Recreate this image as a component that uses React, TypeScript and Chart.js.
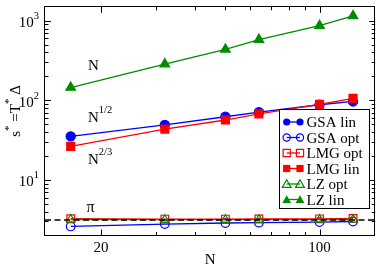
import React, { useEffect, useRef } from 'react';
import { Chart, registerables } from 'chart.js';

Chart.register(...registerables);

// ---- data ----
const N = [16, 32, 50, 64, 100, 128];
const gsaLin = [35.3, 49.2, 62.2, 71, 88, 96.9];
const gsaOpt = [2.6, 2.78, 2.87, 2.9, 2.95, 3.0];
const lmgOpt = [3.25, 3.22, 3.22, 3.23, 3.24, 3.28];
const lmgLin = [26.4, 43.5, 56.6, 67.6, 89, 106];
const lzOpt = [3.18, 3.16, 3.16, 3.17, 3.17, 3.18];
const lzLin = [145, 286, 438, 581, 871, 1155];
const piValue = Math.PI;

const xMajorTicks = [20, 100];
const xMinorTicks = [30, 40, 50, 60, 70, 80, 90];
const xTickLabels = ['20', '100'];
const yMajorTicks = [10, 100, 1000];
const yTickExponents = ['1', '2', '3'];

const X_MIN = 13.24;
const X_MAX = 150.7;
const Y_MIN = 2;
const Y_MAX = 1500;

const BLUE = '#0000ff';
const RED = '#ff0000';
const GREEN = '#008c00';
const FONT = '"Liberation Serif", "Times New Roman", serif';

const legendItems = [
  { label: 'GSA lin', color: BLUE, shape: 'circle', filled: true },
  { label: 'GSA opt', color: BLUE, shape: 'circle', filled: false },
  { label: 'LMG opt', color: RED, shape: 'rect', filled: false },
  { label: 'LMG lin', color: RED, shape: 'rect', filled: true },
  { label: 'LZ opt', color: GREEN, shape: 'triangle', filled: false },
  { label: 'LZ lin', color: GREEN, shape: 'triangle', filled: true },
];

type Part = { t: string; size: number; dy?: number };

function drawRich(ctx: CanvasRenderingContext2D, parts: Part[], x: number, y: number, align: 'left' | 'center' | 'right') {
  let total = 0;
  const widths = parts.map((p) => {
    ctx.font = `${p.size}px ${FONT}`;
    const w = ctx.measureText(p.t).width;
    total += w;
    return w;
  });
  let cx = x;
  if (align === 'center') cx = x - total / 2;
  if (align === 'right') cx = x - total;
  ctx.textAlign = 'left';
  ctx.textBaseline = 'alphabetic';
  parts.forEach((p, i) => {
    ctx.font = `${p.size}px ${FONT}`;
    ctx.fillText(p.t, cx, y + (p.dy || 0));
    cx += widths[i];
  });
}

function drawMarker(ctx: CanvasRenderingContext2D, shape: string, x: number, y: number, color: string, filled: boolean) {
  ctx.beginPath();
  if (shape === 'circle') {
    ctx.arc(x, y, 3.6, 0, Math.PI * 2);
  } else if (shape === 'rect') {
    ctx.rect(x - 3.6, y - 3.6, 7.2, 7.2);
  } else {
    ctx.moveTo(x, y - 4.2);
    ctx.lineTo(x + 4.4, y + 3.4);
    ctx.lineTo(x - 4.4, y + 3.4);
    ctx.closePath();
  }
  if (filled) {
    ctx.fillStyle = color;
    ctx.fill();
  } else {
    ctx.strokeStyle = color;
    ctx.lineWidth = 1.2;
    ctx.stroke();
  }
}

const decorPlugin = {
  id: 'decor',
  afterDraw(chart: any) {
    const ctx: CanvasRenderingContext2D = chart.ctx;
    const { left, right, top, bottom } = chart.chartArea;
    const xs = chart.scales.x;
    const ys = chart.scales.y;
    ctx.save();
    ctx.fillStyle = '#000';
    ctx.strokeStyle = '#000';
    ctx.lineWidth = 1;

    // frame
    ctx.strokeRect(Math.round(left) - 0.5, Math.round(top) - 0.5, Math.round(right) - Math.round(left), Math.round(bottom) - Math.round(top));

    // x ticks (bottom and top, inward)
    const xTick = (v: number, len: number) => {
      const px = Math.round(xs.getPixelForValue(v)) + 0.5;
      ctx.beginPath();
      ctx.moveTo(px, bottom);
      ctx.lineTo(px, bottom - len);
      ctx.moveTo(px, top);
      ctx.lineTo(px, top + len);
      ctx.stroke();
    };
    xMajorTicks.forEach((v) => xTick(v, 6));
    xMinorTicks.forEach((v) => xTick(v, 3.5));

    // y ticks (left and right, inward)
    const yTick = (v: number, len: number) => {
      const py = Math.round(ys.getPixelForValue(v)) + 0.5;
      ctx.beginPath();
      ctx.moveTo(left, py);
      ctx.lineTo(left + len, py);
      ctx.moveTo(right, py);
      ctx.lineTo(right - len, py);
      ctx.stroke();
    };
    yMajorTicks.forEach((v) => yTick(v, 6));
    for (let k = 0; k <= 3; k++) {
      for (let m = 2; m <= 9; m++) {
        const v = m * Math.pow(10, k);
        if (v > Y_MIN && v < Y_MAX) yTick(v, 3.5);
      }
    }

    // x tick labels
    ctx.font = `15px ${FONT}`;
    ctx.textAlign = 'center';
    ctx.textBaseline = 'alphabetic';
    xMajorTicks.forEach((v, i) => {
      ctx.fillText(xTickLabels[i], xs.getPixelForValue(v), 252);
    });

    // y tick labels 10^k
    yMajorTicks.forEach((v, i) => {
      const py = ys.getPixelForValue(v);
      drawRich(ctx, [{ t: '10', size: 15 }, { t: yTickExponents[i], size: 10.5, dy: -8 }], 39, py + 6.5, 'right');
    });

    // x title
    ctx.font = `15px ${FONT}`;
    ctx.textAlign = 'center';
    ctx.fillText('N', (left + right) / 2, 263.5);

    // y title (rotated)
    ctx.save();
    ctx.translate(20, 111);
    ctx.rotate(-Math.PI / 2);
    drawRich(ctx, [
      { t: 's', size: 15 },
      { t: '*', size: 11, dy: -8 },
      { t: ' =T', size: 15 },
      { t: '*', size: 11, dy: -8 },
      { t: ' \u0394', size: 15 },
    ], 0, 0, 'center');
    ctx.restore();

    // annotations
    drawRich(ctx, [{ t: 'N', size: 15 }], 88, 69.5, 'left');
    drawRich(ctx, [{ t: 'N', size: 15 }, { t: '1/2', size: 10.5, dy: -9 }], 88, 121.5, 'left');
    drawRich(ctx, [{ t: 'N', size: 15 }, { t: '2/3', size: 10.5, dy: -9 }], 88, 163.5, 'left');
    drawRich(ctx, [{ t: '\u03c0', size: 16 }], 86.5, 211.5, 'left');

    // legend
    const bx = 279.5, by = 109.5, bw = 90, bh = 99;
    ctx.fillStyle = '#fff';
    ctx.fillRect(bx, by, bw, bh);
    ctx.strokeStyle = '#000';
    ctx.lineWidth = 1;
    ctx.strokeRect(bx, by, bw, bh);
    legendItems.forEach((it, i) => {
      const cy = 122 + i * 15.5;
      ctx.strokeStyle = it.color;
      ctx.lineWidth = 1.3;
      ctx.beginPath();
      ctx.moveTo(286.7, cy);
      ctx.lineTo(300, cy);
      ctx.stroke();
      drawMarker(ctx, it.shape, 286.7, cy, it.color, it.filled);
      drawMarker(ctx, it.shape, 300, cy, it.color, it.filled);
      ctx.fillStyle = '#000';
      ctx.font = `15px ${FONT}`;
      ctx.textAlign = 'left';
      ctx.textBaseline = 'alphabetic';
      ctx.fillText(it.label, 306.5, cy + 5);
    });

    ctx.restore();
  },
};

function series(values: number[]) {
  return N.map((x, i) => ({ x, y: values[i] }));
}

export default function App() {
  const ref = useRef<HTMLCanvasElement | null>(null);

  useEffect(() => {
    if (!ref.current) return;
    const common = { borderWidth: 1.3, pointBorderWidth: 1.2, tension: 0, fill: false };
    const chart = new Chart(ref.current, {
      type: 'line',
      data: {
        datasets: [
          {
            label: 'pi',
            data: [{ x: X_MIN, y: piValue }, { x: X_MAX, y: piValue }],
            borderColor: '#000',
            borderDash: [6, 3.5],
            borderWidth: 1.5,
            pointRadius: 0,
            order: 0,
            fill: false,
          },
          { label: 'LZ opt', data: series(lzOpt), borderColor: GREEN, backgroundColor: 'rgba(0,0,0,0)', pointStyle: 'triangle', pointRadius: 5, order: 1, ...common },
          { label: 'LMG opt', data: series(lmgOpt), borderColor: RED, backgroundColor: 'rgba(0,0,0,0)', pointStyle: 'rect', pointRadius: 5.4, order: 2, ...common },
          { label: 'GSA opt', data: series(gsaOpt), borderColor: BLUE, backgroundColor: 'rgba(0,0,0,0)', pointStyle: 'circle', pointRadius: 4.3, order: 3, ...common },
          { label: 'LZ lin', data: series(lzLin), borderColor: GREEN, backgroundColor: GREEN, pointStyle: 'triangle', pointRadius: 5.5, order: 1, ...common },
          { label: 'LMG lin', data: series(lmgLin), borderColor: RED, backgroundColor: RED, pointStyle: 'rect', pointRadius: 5.6, order: 2, ...common },
          { label: 'GSA lin', data: series(gsaLin), borderColor: BLUE, backgroundColor: BLUE, pointStyle: 'circle', pointRadius: 4.6, order: 3, ...common },
        ],
      },
      options: {
        responsive: false,
        animation: false,
        layout: { padding: { left: 45, right: 3, top: 1.5, bottom: 29.5 } },
        plugins: { legend: { display: false }, tooltip: { enabled: false } },
        scales: {
          x: { type: 'logarithmic', min: X_MIN, max: X_MAX, display: false },
          y: { type: 'logarithmic', min: Y_MIN, max: Y_MAX, display: false },
        },
      },
      plugins: [decorPlugin],
    } as any);
    return () => chart.destroy();
  }, []);

  return (
    <div style={{ position: 'fixed', left: 0, top: 0, width: 382, height: 265, background: '#fff' }}>
      <canvas ref={ref} width={382} height={265} style={{ display: 'block' }} />
    </div>
  );
}
